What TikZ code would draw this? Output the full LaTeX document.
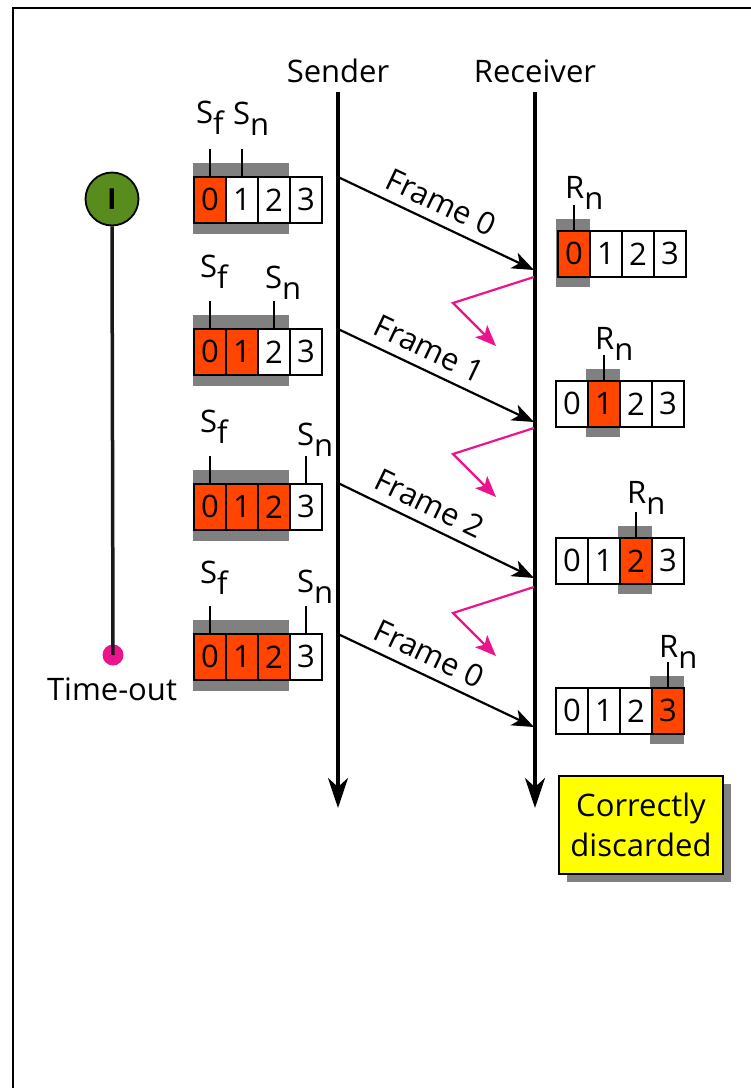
\documentclass[tikz,border=0pt]{standalone}
\usepackage{fontspec}
\setmainfont{Open Sans}
\usetikzlibrary{arrows.meta,shadows}
\definecolor{cellred}{RGB}{255,69,0}
\definecolor{bandgray}{RGB}{128,128,128}
\definecolor{ackpink}{RGB}{236,20,140}
\definecolor{timergreen}{RGB}{88,140,28}
\definecolor{notebox}{RGB}{255,255,0}
\newcommand{\lowsub}[1]{\raisebox{-11pt}{#1}}
\begin{document}
\begin{tikzpicture}[x=1pt,y=-1pt,
  every node/.style={font=\fontsize{31}{40}\selectfont, inner sep=0pt},
  cellbox/.style={draw, line width=1.8pt, minimum width=32pt, minimum height=46pt, anchor=north west},
  tickline/.style={line width=1.5pt},
  timeline/.style={line width=3.5pt, -{Stealth[length=30pt,width=20pt,inset=9pt]}},
  framearrow/.style={line width=2.2pt, -{Stealth[length=22pt,width=17pt,inset=6pt]}},
  ackline/.style={line width=2.2pt, draw=ackpink, -{Stealth[length=21pt,width=17pt,inset=5pt,fill=ackpink]}},
  framelbl/.style={sloped, above=9pt}
]
\useasboundingbox (0,0) rectangle (751,1088);
\fill[white] (0,0) rectangle (751,1088);
% frame
\draw[line width=2.5pt] (13,1088) -- (13,8) -- (751,8);

% time lines
\node[anchor=base] (sendlbl) at (338,82) {Sender};
\node[anchor=base] (recvlbl) at (535,82) {Receiver};
\coordinate (stop) at (338,92);
\coordinate (sbot) at (338,808);
\coordinate (rtop) at (535,92);
\coordinate (rbot) at (535,808);
\draw[timeline] (stop) -- (sbot);
\draw[timeline] (rtop) -- (rbot);

% sender windows
\foreach \r/\top/\nf/\sn/\sfx/\sfb/\snb in {1/176/1/1/196/123/124, 2/328/2/2/200/277/288, 3/483/3/3/200/432/445, 4/633/3/3/200/583/592}{
  \fill[bandgray] (193,\top-13) rectangle (289,\top+58);
  \foreach \i in {0,...,3}{
    \ifnum\i<\nf\relax\def\cellfill{cellred}\else\def\cellfill{white}\fi
    \node[cellbox, fill=\cellfill] (s\r c\i) at ({193+32*\i},\top) {\i};
  }
  \draw[tickline] (s\r c0.north) -- ++(0,-27);
  \draw[tickline] (s\r c\sn.north) -- ++(0,-27);
  \node[anchor=base west] (sf\r) at (\sfx,\sfb) {S\lowsub{f}};
  \node[anchor=base west] (sn\r) at ({201+32*\sn},\snb) {S\lowsub{n}};
}

% receiver windows
\foreach \r/\rx/\top/\rb in {0/557/230/198, 1/555/380/349, 2/555/537/503, 3/555/687/657}{
  \fill[bandgray] ({\rx+32*\r-1},\top-11) rectangle ({\rx+32*\r+33},\top+57);
  \foreach \i in {0,...,3}{
    \ifnum\i=\r\relax\def\cellfill{cellred}\else\def\cellfill{white}\fi
    \node[cellbox, fill=\cellfill] (r\r c\i) at ({\rx+32*\i},\top) {\i};
  }
  \draw[tickline] (r\r c\r.north) -- ++(0,-25);
  \node[anchor=base west] (rn\r) at ({\rx+32*\r+8},\rb) {R\lowsub{n}};
}

% frames
\coordinate (fs1) at (338,177); \coordinate (fr1) at (534,270);
\coordinate (fs2) at (338,329); \coordinate (fr2) at (534,422);
\coordinate (fs3) at (338,483); \coordinate (fr3) at (534,578);
\coordinate (fs4) at (338,634); \coordinate (fr4) at (534,727);
\draw[framearrow] (fs1) -- node[framelbl, pos=0.48] {Frame 0} (fr1);
\draw[framearrow] (fs2) -- node[framelbl, pos=0.42] {Frame 1} (fr2);
\draw[framearrow] (fs3) -- node[framelbl, pos=0.42] {Frame 2} (fr3);
\draw[framearrow] (fs4) -- node[framelbl, pos=0.42] {Frame 0} (fr4);

% lost acks
\foreach \k/\y in {1/277, 2/428, 3/587}{
  \coordinate (as\k) at (534,\y);
  \coordinate (ac\k) at (453,\y+26);
  \coordinate (at\k) at (496,\y+69);
  \draw[ackline] (as\k) -- (ac\k) -- (at\k);
}

% timer
\node[circle, draw, line width=1.8pt, fill=timergreen, minimum size=53pt,
      font=\fontsize{29}{29}\selectfont\bfseries] (timer) at (112,199) {I};
\node[circle, fill=ackpink, minimum size=21pt] (tout) at (113,655) {};
\draw[line width=3.5pt, black!90] (timer.south) -- (tout.center);
\node[anchor=base] (toutlbl) at (112,700) {Time-out};

% note
\node[draw, line width=1.5pt, fill=notebox, minimum width=164pt, minimum height=98pt,
      align=center, drop shadow={shadow xshift=8pt, shadow yshift=-8pt, fill=bandgray, opacity=1}]
      (note) at (641,825) {Correctly\\discarded};
\end{tikzpicture}
\end{document}
